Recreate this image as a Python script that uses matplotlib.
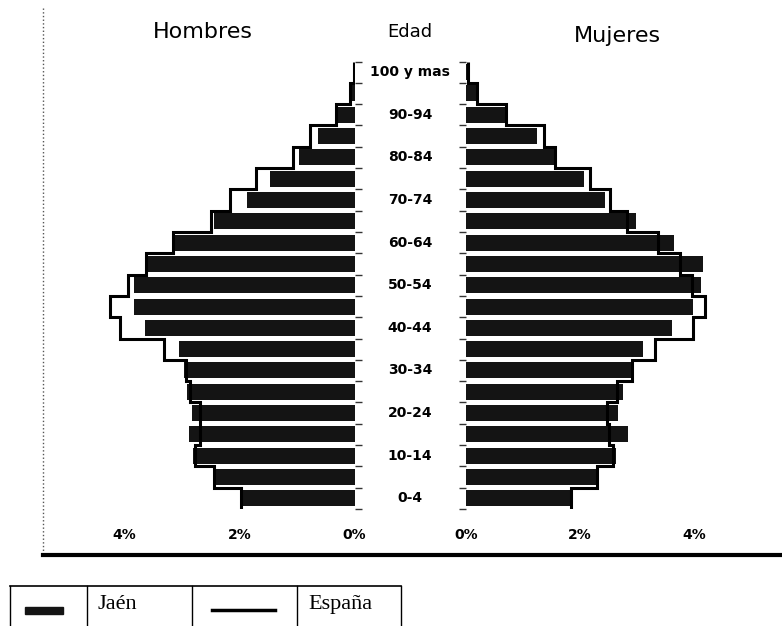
import numpy as np
import matplotlib
matplotlib.use('Agg')
import matplotlib.pyplot as plt
from matplotlib.lines import Line2D
from matplotlib.patches import Rectangle
from matplotlib.transforms import blended_transform_factory

# age groups, bottom to top
edades = ['0-4', '5-9', '10-14', '15-19', '20-24', '25-29', '30-34', '35-39',
          '40-44', '45-49', '50-54', '55-59', '60-64', '65-69', '70-74',
          '75-79', '80-84', '85-89', '90-94', '95-99', '100 y mas']

# % of population, Jaén (bars) and España (outline)
jaen_h = [2.00, 2.42, 2.81, 2.87, 2.82, 2.92, 2.97, 3.05, 3.65, 3.83, 3.84,
          3.65, 3.17, 2.45, 1.87, 1.47, 0.96, 0.64, 0.33, 0.07, 0.02]
esp_h = [1.98, 2.45, 2.77, 2.69, 2.68, 2.86, 2.93, 3.31, 4.07, 4.25, 3.94,
         3.63, 3.15, 2.50, 2.16, 1.72, 1.07, 0.77, 0.33, 0.07, 0.01]
jaen_m = [1.87, 2.29, 2.63, 2.85, 2.67, 2.75, 2.91, 3.11, 3.61, 3.98, 4.12,
          4.16, 3.65, 2.99, 2.44, 2.07, 1.59, 1.24, 0.70, 0.19, 0.04]
esp_m = [1.85, 2.29, 2.58, 2.51, 2.47, 2.65, 2.91, 3.32, 3.99, 4.19, 3.96,
         3.75, 3.37, 2.82, 2.53, 2.18, 1.56, 1.36, 0.70, 0.19, 0.04]

xticks = [0, 2, 4]
xticklabels = ['0%', '2%', '4%']

W, H = 782, 626
fig = plt.figure(figsize=(W/100, H/100), dpi=100)

y = np.arange(len(edades))
edges = np.arange(len(edades) + 1) - 0.5
bar_col = '#141414'

ax_bottom = (H - 509) / H
ax_height = (509 - 61.5) / H

# Hombres (left)
axL = fig.add_axes([67/W, ax_bottom, 287.5/W, ax_height])
axL.barh(y, -np.array(jaen_h), height=0.75, color=bar_col)
axL.stairs(-np.array(esp_h), edges, orientation='horizontal', baseline=None,
           color='black', lw=2.2)
axL.set_xlim(-5, 0)
axL.set_ylim(-0.5, len(edades) - 0.5)
axL.set_xticks([-t for t in xticks])
axL.set_xticklabels(xticklabels)
axL.yaxis.tick_right()
axL.set_yticks(edges)
axL.set_yticklabels([])

# Mujeres (right)
axR = fig.add_axes([466/W, ax_bottom, 285/W, ax_height])
axR.barh(y, jaen_m, height=0.75, color=bar_col)
axR.stairs(esp_m, edges, orientation='horizontal', baseline=None,
           color='black', lw=2.2)
axR.set_xlim(0, 5)
axR.set_ylim(-0.5, len(edades) - 0.5)
axR.set_xticks(xticks)
axR.set_xticklabels(xticklabels)
axR.set_yticks(edges)
axR.set_yticklabels([])

for ax in (axL, axR):
    for s in ax.spines.values():
        s.set_visible(False)
    ax.tick_params(axis='x', length=0, pad=14, labelsize=10)
    ax.tick_params(axis='y', length=5, width=1, color='#333333')
    for lab in ax.get_xticklabels():
        lab.set_fontweight('bold')

# age labels between the panels
tr = blended_transform_factory(fig.transFigure, axL.transData)
for i in range(0, len(edades), 2):
    axL.text(410/W, i, edades[i], transform=tr, ha='center', va='center',
             fontsize=10, fontweight='bold', clip_on=False)

# titles
fig.text(203/W, 1 - 38/H, 'Hombres', ha='center', va='baseline', fontsize=16)
fig.text(410/W, 1 - 37/H, 'Edad', ha='center', va='baseline', fontsize=13)
fig.text(617/W, 1 - 42/H, 'Mujeres', ha='center', va='baseline', fontsize=16)

# chart frame: dotted left edge, thick bottom line
fig.add_artist(Line2D([43/W, 43/W], [1 - 8/H, 1 - 555/H], transform=fig.transFigure,
                      ls=':', color='#555555', lw=1))
fig.add_artist(Line2D([43/W, 1], [1 - 555/H, 1 - 555/H], transform=fig.transFigure,
                      color='black', lw=3))

# legend table
fig.add_artist(Line2D([10/W, 401/W], [1 - 586/H, 1 - 586/H], transform=fig.transFigure,
                      color='black', lw=1.2))
for xv in [10, 87, 192, 297, 401]:
    fig.add_artist(Line2D([xv/W, xv/W], [1 - 586/H, 0], transform=fig.transFigure,
                          color='black', lw=1))
fig.add_artist(Rectangle((25/W, 1 - 614/H), 38/W, 7/H, transform=fig.transFigure,
                         color=bar_col))
fig.add_artist(Line2D([212/W, 275/W], [1 - 610/H, 1 - 610/H], transform=fig.transFigure,
                      color='black', lw=2.5))
fig.text(98/W, 1 - 609/H, 'Jaén', ha='left', va='baseline', fontsize=16,
         family='Liberation Serif')
fig.text(308/W, 1 - 609/H, 'España', ha='left', va='baseline', fontsize=16,
         family='Liberation Serif')

fig.savefig('out.png', dpi=100)
